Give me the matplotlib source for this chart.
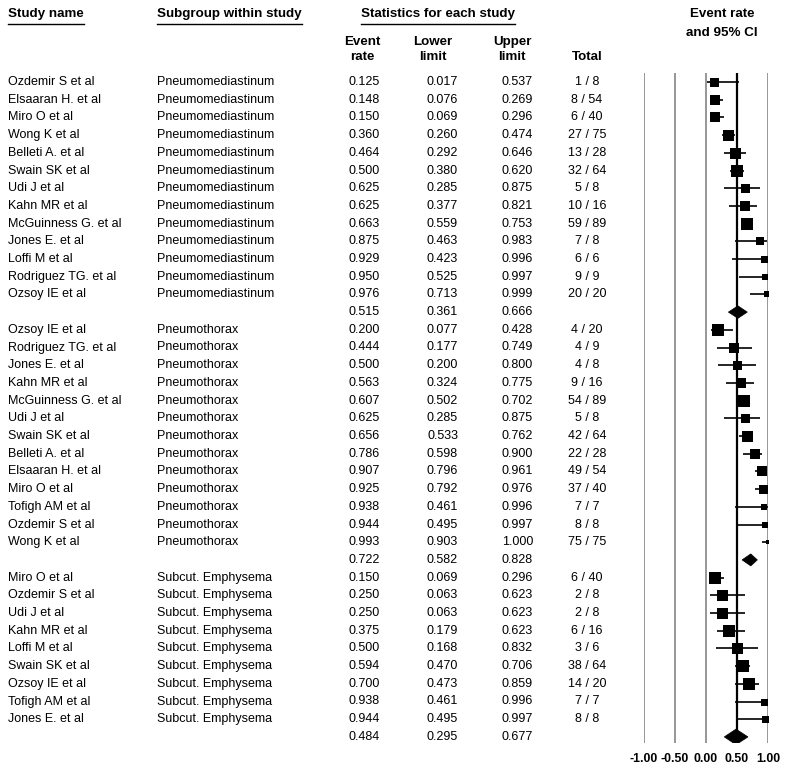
import matplotlib
matplotlib.use("Agg")
import matplotlib.pyplot as plt
from matplotlib.patches import Polygon

plt.rcParams['font.family'] = ['Liberation Sans', 'DejaVu Sans']

# ---------------- data ----------------
g1_studies = ["Ozdemir S et al", "Elsaaran H. et al", "Miro O et al", "Wong K et al",
              "Belleti A. et al", "Swain SK et al", "Udi J et al", "Kahn MR et al",
              "McGuinness G. et al", "Jones E. et al", "Loffi M et al",
              "Rodriguez TG. et al", "Ozsoy IE et al"]
g1_name = "Pneumomediastinum"
g1_rate = [0.125, 0.148, 0.150, 0.360, 0.464, 0.500, 0.625, 0.625, 0.663, 0.875, 0.929, 0.950, 0.976]
g1_low = [0.017, 0.076, 0.069, 0.260, 0.292, 0.380, 0.285, 0.377, 0.559, 0.463, 0.423, 0.525, 0.713]
g1_up = [0.537, 0.269, 0.296, 0.474, 0.646, 0.620, 0.875, 0.821, 0.753, 0.983, 0.996, 0.997, 0.999]
g1_total = ["1 / 8", "8 / 54", "6 / 40", "27 / 75", "13 / 28", "32 / 64", "5 / 8",
            "10 / 16", "59 / 89", "7 / 8", "6 / 6", "9 / 9", "20 / 20"]
g1_weight = [9, 10, 10, 11, 11, 12, 9, 10, 12, 8, 7, 6, 6]
g1_summary = [0.515, 0.361, 0.666]

g2_studies = ["Ozsoy IE et al", "Rodriguez TG. et al", "Jones E. et al", "Kahn MR et al",
              "McGuinness G. et al", "Udi J et al", "Swain SK et al", "Belleti A. et al",
              "Elsaaran H. et al", "Miro O et al", "Tofigh AM et al", "Ozdemir S et al",
              "Wong K et al"]
g2_name = "Pneumothorax"
g2_rate = [0.200, 0.444, 0.500, 0.563, 0.607, 0.625, 0.656, 0.786, 0.907, 0.925, 0.938, 0.944, 0.993]
g2_low = [0.077, 0.177, 0.200, 0.324, 0.502, 0.285, 0.533, 0.598, 0.796, 0.792, 0.461, 0.495, 0.903]
g2_up = [0.428, 0.749, 0.800, 0.775, 0.702, 0.875, 0.762, 0.900, 0.961, 0.976, 0.996, 0.997, 1.000]
g2_total = ["4 / 20", "4 / 9", "4 / 8", "9 / 16", "54 / 89", "5 / 8", "42 / 64",
            "22 / 28", "49 / 54", "37 / 40", "7 / 7", "8 / 8", "75 / 75"]
g2_weight = [12, 10, 9, 10, 12, 9, 11, 10, 10, 9, 6, 6, 5]
g2_summary = [0.722, 0.582, 0.828]

g3_studies = ["Miro O et al", "Ozdemir S et al", "Udi J et al", "Kahn MR et al",
              "Loffi M et al", "Swain SK et al", "Ozsoy IE et al", "Tofigh AM et al",
              "Jones E. et al"]
g3_name = "Subcut. Emphysema"
g3_rate = [0.150, 0.250, 0.250, 0.375, 0.500, 0.594, 0.700, 0.938, 0.944]
g3_low = [0.069, 0.063, 0.063, 0.179, 0.168, 0.470, 0.473, 0.461, 0.495]
g3_up = [0.296, 0.623, 0.623, 0.623, 0.832, 0.706, 0.859, 0.996, 0.997]
g3_total = ["6 / 40", "2 / 8", "2 / 8", "6 / 16", "3 / 6", "38 / 64", "14 / 20", "7 / 7", "8 / 8"]
g3_weight = [12, 11, 11, 12, 11, 12, 12, 7, 7]
g3_summary = [0.484, 0.295, 0.677]

xticks = [-1.0, -0.5, 0.0, 0.5, 1.0]
xtick_labels = ["-1.00", "-0.50", "0.00", "0.50", "1.00"]

groups = [
    (g1_studies, g1_name, g1_rate, g1_low, g1_up, g1_total, g1_weight, g1_summary),
    (g2_studies, g2_name, g2_rate, g2_low, g2_up, g2_total, g2_weight, g2_summary),
    (g3_studies, g3_name, g3_rate, g3_low, g3_up, g3_total, g3_weight, g3_summary),
]

# ---------------- layout ----------------
W, H = 785, 770
ROW0, ROWH = 82.0, 17.7


def r(p):
    return (p - ROW0) / ROWH


fig = plt.figure(figsize=(W / 100, H / 100), dpi=100)
ax_bg = fig.add_axes([0, 0, 1, 1])
ax_bg.set_xlim(0, W)
ax_bg.set_ylim(r(H), r(0))
ax_bg.axis('off')

PX_L, PX_R, PX_T, PX_B = 644, 768, 73, 743
ax = fig.add_axes([PX_L / W, 1 - PX_B / H, (PX_R - PX_L) / W, (PX_B - PX_T) / H])
ax.set_xlim(-1, 1)
ax.set_ylim(r(PX_B), r(PX_T))
for s in ax.spines.values():
    s.set_visible(False)
ax.set_yticks([])
ax.set_xticks(xticks)
ax.set_xticklabels(xtick_labels, fontweight='bold', fontsize=8.8)
ax.tick_params(axis='x', length=0, pad=7)
ax.patch.set_alpha(0)

for xv in xticks:
    if xv == 0.5:
        ax.axvline(xv, color='black', lw=1.6, zorder=1)
    else:
        ax.axvline(xv, color='#7a7a7a', lw=1.1, zorder=1)

FS = 9.0
HFS = 9.6
X_NAME, X_SUB, X_ER, X_LL, X_UL, X_TOT = 8, 157, 380, 458, 533, 587

# headers
fig.canvas.draw()
renderer = fig.canvas.get_renderer()
for txt, x, ha in [("Study name", X_NAME, 'left'),
                   ("Subgroup within study", X_SUB, 'left'),
                   ("Statistics for each study", 438, 'center')]:
    t = ax_bg.text(x, r(14), txt, fontsize=HFS, fontweight='bold', ha=ha, va='center')
    bb = t.get_window_extent(renderer=renderer)
    inv = ax_bg.transData.inverted()
    (x0, _), (x1, _) = inv.transform([(bb.x0, 0), (bb.x1, 0)])
    ax_bg.plot([x0, x1], [r(23.5), r(23.5)], color='black', lw=1.0)

ax_bg.text(722, r(14), "Event rate", fontsize=HFS, fontweight='bold', ha='center', va='center')
ax_bg.text(722, r(33), "and 95% CI", fontsize=HFS, fontweight='bold', ha='center', va='center')
for txt, x in [("Event\nrate", 362), ("Lower\nlimit", 433), ("Upper\nlimit", 512)]:
    a, b = txt.split("\n")
    ax_bg.text(x, r(42), a, fontsize=HFS, fontweight='bold', ha='center', va='center')
    ax_bg.text(x, r(57.5), b, fontsize=HFS, fontweight='bold', ha='center', va='center')
ax_bg.text(587, r(57.5), "Total", fontsize=HFS, fontweight='bold', ha='center', va='center')

# px per x-unit in the forest axes, for diamond height proportional to its width
PX_PER_UNIT = (PX_R - PX_L) / 2.0

# rows
row = 0
for studies, gname, rate, low, up, total, weight, summ in groups:
    for i in range(len(studies)):
        y = row
        ax_bg.text(X_NAME, y, studies[i], fontsize=FS, ha='left', va='center')
        ax_bg.text(X_SUB, y, gname, fontsize=FS, ha='left', va='center')
        ax_bg.text(X_ER, y, f"{rate[i]:.3f}", fontsize=FS, ha='right', va='center')
        ax_bg.text(X_LL, y, f"{low[i]:.3f}", fontsize=FS, ha='right', va='center')
        ax_bg.text(X_UL, y, f"{up[i]:.3f}", fontsize=FS, ha='right', va='center')
        ax_bg.text(X_TOT, y, total[i], fontsize=FS, ha='center', va='center')
        ax.plot([low[i], up[i]], [y, y], color='black', lw=1.2, zorder=3,
                solid_capstyle='butt')
        ax.plot([rate[i]], [y], marker='s', color='black', ms=weight[i] * 0.72,
                mew=0, zorder=4)
        row += 1
    y = row
    ax_bg.text(X_ER, y, f"{summ[0]:.3f}", fontsize=FS, ha='right', va='center')
    ax_bg.text(X_LL, y, f"{summ[1]:.3f}", fontsize=FS, ha='right', va='center')
    ax_bg.text(X_UL, y, f"{summ[2]:.3f}", fontsize=FS, ha='right', va='center')
    width_px = (summ[2] - summ[1]) * PX_PER_UNIT
    h = max(6.0, 0.33 * width_px) / ROWH
    ax.add_patch(Polygon([(summ[1], y), (summ[0], y - h), (summ[2], y), (summ[0], y + h)],
                         closed=True, facecolor='black', edgecolor='black', lw=0.5, zorder=4))
    row += 1

fig.savefig("out.png", dpi=100)
